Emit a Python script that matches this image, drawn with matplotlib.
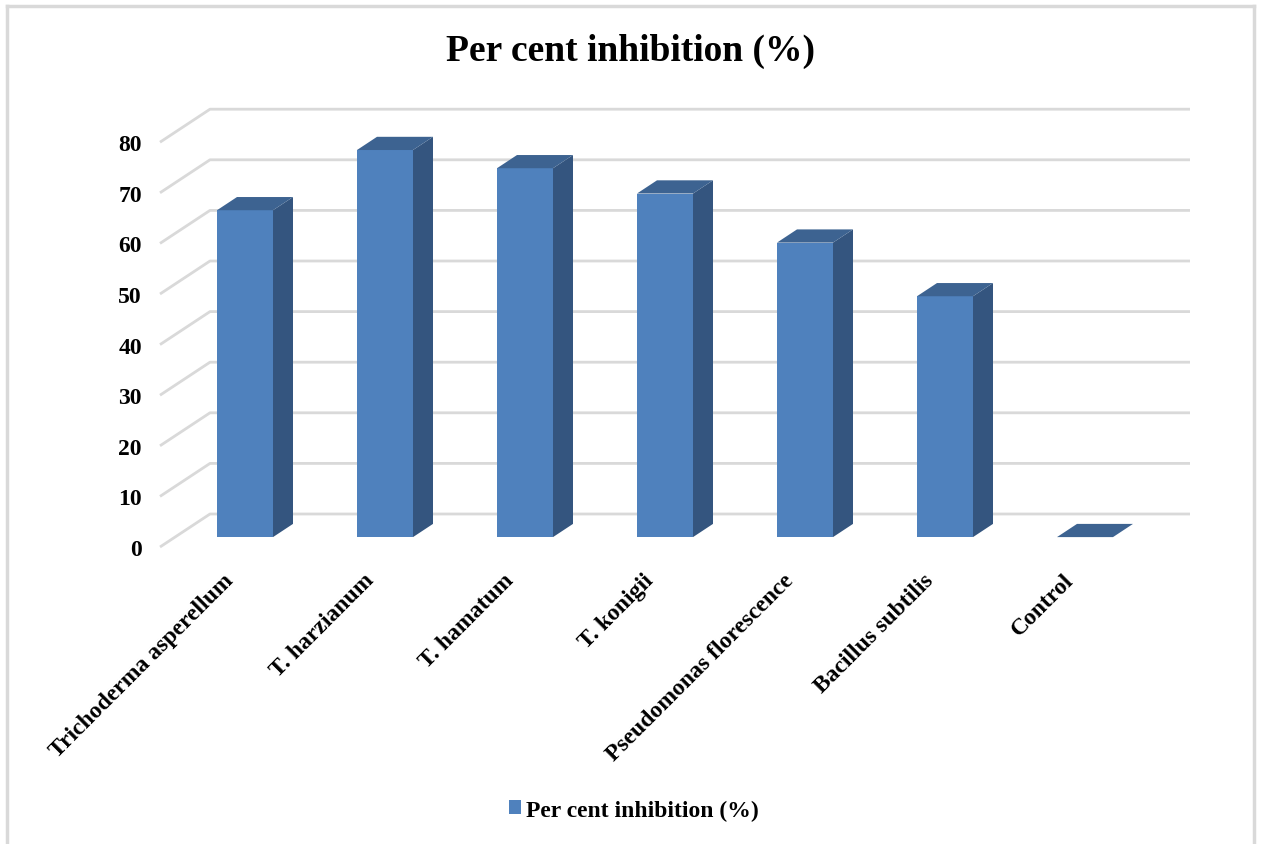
import matplotlib.pyplot as plt
import matplotlib.transforms as mtransforms
from matplotlib.patches import Polygon, Rectangle
from matplotlib.lines import Line2D

plt.rcParams['font.family'] = ['Liberation Serif', 'DejaVu Serif']
plt.rcParams['font.weight'] = 'bold'

# data
treatments = ['Trichoderma asperellum', 'T. harzianum', 'T. hamatum', 'T. konigii',
              'Pseudomonas florescence', 'Bacillus subtilis', 'Control']
inhibition = [64.6, 76.5, 72.9, 67.9, 58.2, 47.6, 0.0]
yticks = [0, 10, 20, 30, 40, 50, 60, 70, 80]
title = 'Per cent inhibition (%)'

# colours of the fake 3d column
front_col = '#4F81BD'
side_col = '#34557F'
top_col = '#3D6391'
grid_col = '#D9D9D9'

W, H = 1261, 845
fig = plt.figure(figsize=(W / 100, H / 100), dpi=100)

# plot area in pixels: front plane origin at (160, 548), 140 px per category, 5.06 px per unit
px_cat = 140.0
px_val = 5.06
ax_left, ax_bottom_px, ax_w, ax_h = 160, 548, 1030, 438
ax = fig.add_axes([ax_left / W, (H - ax_bottom_px) / H, ax_w / W, ax_h / H])
ax.set_xlim(-0.5, -0.5 + ax_w / px_cat)
ax.set_ylim(0, ax_h / px_val)

# depth offset of back wall (data units)
DX = 50 / px_cat
DY = 33 / px_val
z0, z1 = 0.3, 0.7      # bar depth range
bw = 0.4               # bar width
n = len(treatments)


def proj(x, y, z):
    return (x + z * DX, y + z * DY)


# back wall and left wall gridlines
for v in yticks:
    xs = [-0.5, -0.5 + DX, n - 0.5 + DX]
    ys = [v, v + DY, v + DY]
    ax.plot(xs, ys, color=grid_col, lw=2, solid_capstyle='butt', clip_on=False, zorder=1)

# columns
for i, val in enumerate(inhibition):
    xl, xr = i - bw / 2, i + bw / 2
    side = [proj(xr, 0, z0), proj(xr, 0, z1), proj(xr, val, z1), proj(xr, val, z0)]
    top = [proj(xl, val, z0), proj(xr, val, z0), proj(xr, val, z1), proj(xl, val, z1)]
    front = [proj(xl, 0, z0), proj(xr, 0, z0), proj(xr, val, z0), proj(xl, val, z0)]
    if val > 0:
        ax.add_patch(Polygon(side, closed=True, fc=side_col, ec='none', zorder=2, clip_on=False))
        ax.add_patch(Polygon(front, closed=True, fc=front_col, ec='none', zorder=3, clip_on=False))
    ax.add_patch(Polygon(top, closed=True, fc=top_col, ec='none', zorder=3, clip_on=False))

# axes styling
for s in ax.spines.values():
    s.set_visible(False)
ax.set_yticks(yticks)
ax.set_yticklabels([str(v) for v in yticks], fontsize=17, fontweight='bold')
ax.tick_params(axis='y', length=0, pad=13)
ax.set_xticks(range(n))
ax.set_xticklabels(treatments, rotation=45, ha='right', va='top', fontsize=17, fontweight='bold')
ax.tick_params(axis='x', length=0, pad=16)
shift = mtransforms.ScaledTranslation(8 / 100, 0, fig.dpi_scale_trans)
for lab in ax.get_xticklabels():
    lab.set_transform(lab.get_transform() + shift)
ax.patch.set_visible(False)

fig.text(0.5, 1 - 51 / H, title, ha='center', va='center', fontsize=27, fontweight='bold')

handle = Rectangle((0, 0), 1, 1, fc=front_col, ec='none')
fig.legend([handle], [title], loc='center', bbox_to_anchor=(634 / W, 1 - 811 / H),
           frameon=False, prop={'size': 17, 'weight': 'bold'},
           handlelength=0.5, handleheight=0.5, handletextpad=0.25)

# chart border
for xs, ys in [([6.5, 6.5], [0, H - 7]), ([1253.5, 1253.5], [0, H - 7]), ([6.5, 1253.5], [H - 7, H - 7])]:
    fig.add_artist(Line2D([x / W for x in xs], [y / H for y in ys], color=grid_col, lw=2.5))

fig.savefig('out.png', dpi=100)
